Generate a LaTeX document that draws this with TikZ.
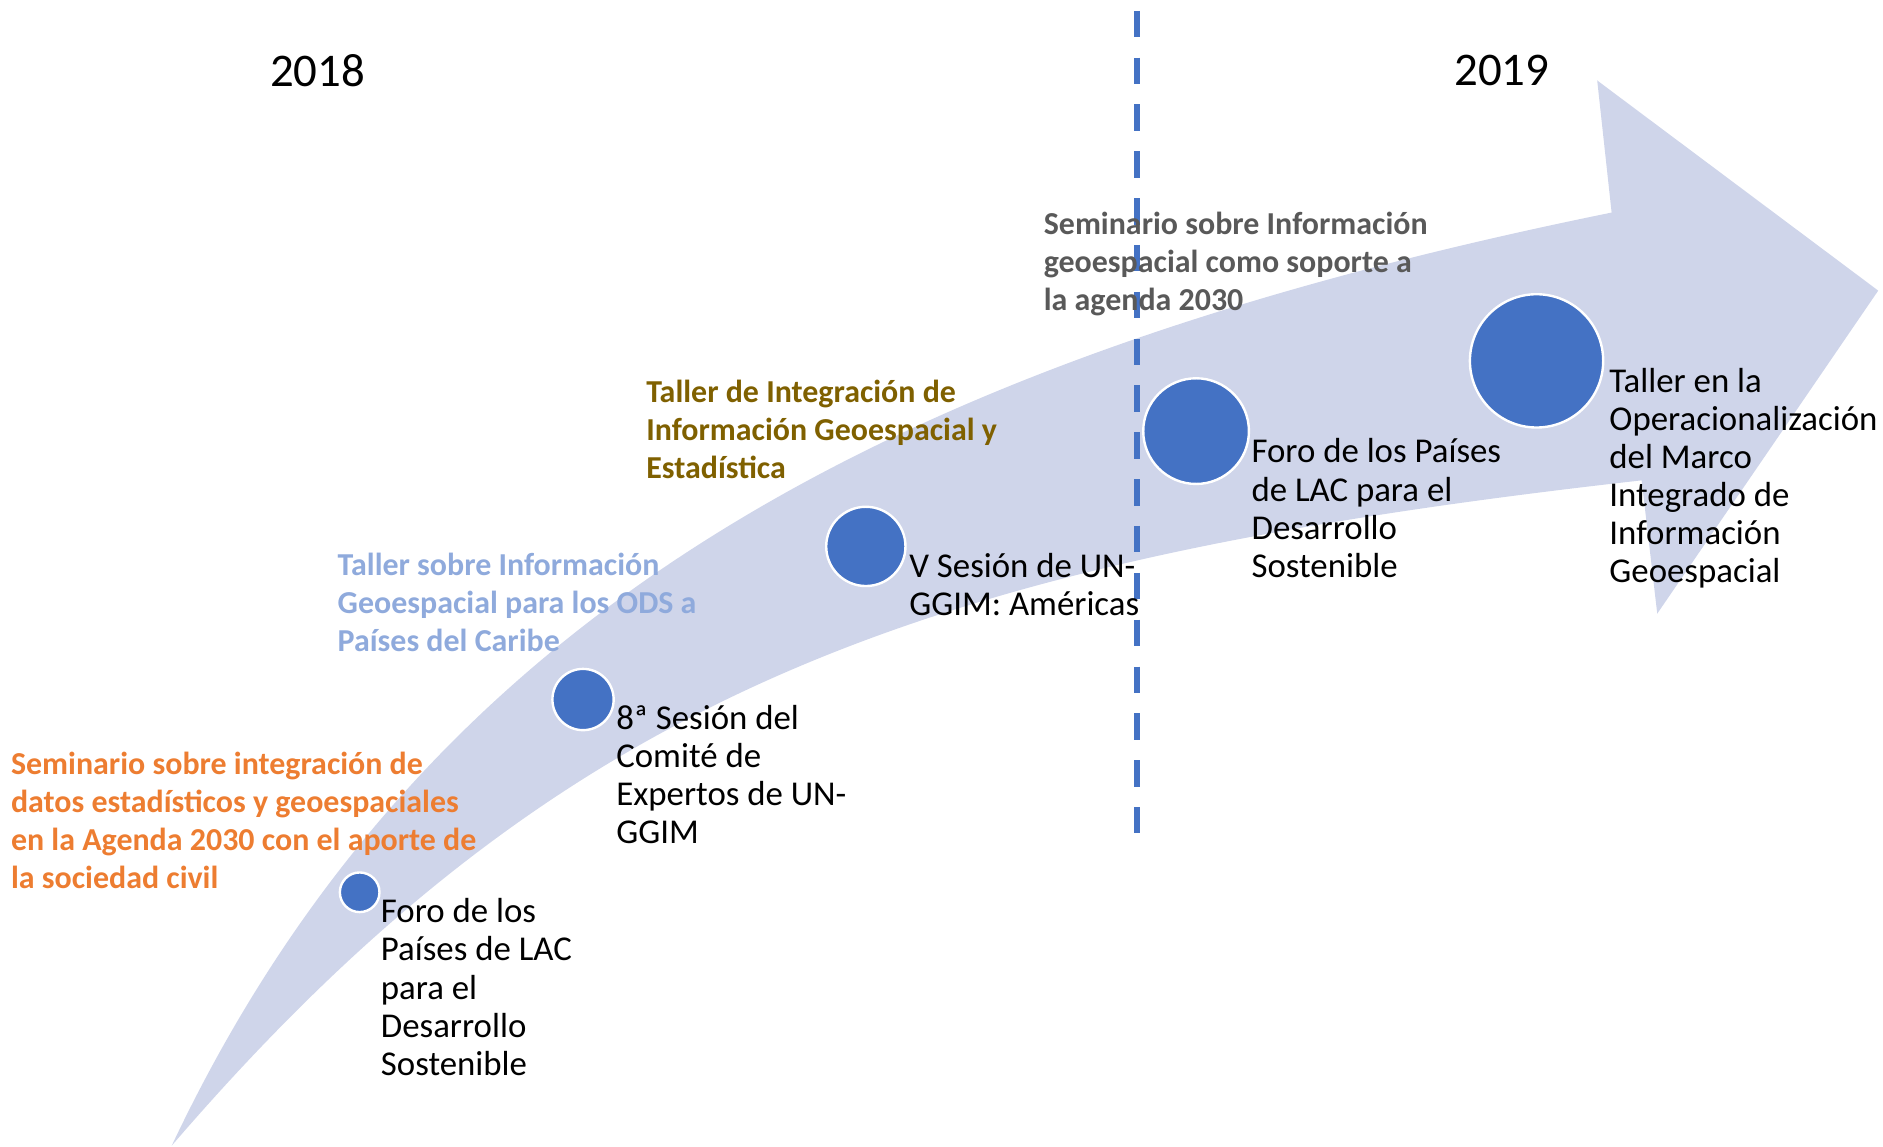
\documentclass[tikz,border=0pt]{standalone}
\usepackage{fontspec}
\setmainfont{Carlito}
\definecolor{arrowfill}{RGB}{207,213,234}
\definecolor{dotblue}{HTML}{4472C4}
\definecolor{orangetxt}{HTML}{ED7D31}
\definecolor{lbluetxt}{HTML}{8FAADC}
\definecolor{goldtxt}{HTML}{7F6000}
\definecolor{graytxt}{HTML}{595959}
\begin{document}
\begin{tikzpicture}[x=1pt,y=-1pt,
  txt/.style={inner sep=0pt, align=left, anchor=base west, font=\fontsize{29}{31.7}\selectfont},
  btxt/.style={inner sep=0pt, align=left, anchor=base west, font=\fontsize{26.6}{31.7}\selectfont\bfseries},
  dot/.style={circle, fill=dotblue, draw=white, line width=2pt, inner sep=0pt},
  year/.style={inner sep=0pt, font=\fontsize{39}{40}\selectfont}]
\useasboundingbox (0,0) rectangle (1568,955);
% curved arrow
\fill[arrowfill] (143,954) .. controls (356,503) and (752,297) .. (1342,177)
  -- (1330,67) -- (1564,242) -- (1380,511) -- (1367,400)
  .. controls (771,467) and (469,575) .. (143,954) -- cycle;
% divider
\coordinate (dtop) at (947,9);
\coordinate (dbot) at (947,697);
\draw[dotblue, line width=5pt, dash pattern=on 22pt off 17pt] (dtop) -- (dbot);
% years
\node[year] (y18) at (264.5,59) {2018};
\node[year] (y19) at (1250.5,59) {2019};
% dots
\node[dot, minimum size=33pt] (c1) at (299.5,743) {};
\node[dot, minimum size=51pt] (c2) at (485.5,582.5) {};
\node[dot, minimum size=66pt] (c3) at (721,455) {};
\node[dot, minimum size=88pt] (c4) at (996,359) {};
\node[dot, minimum size=111pt] (c5) at (1279.5,300.5) {};
% event labels (black); anchor = baseline of last line
\node[txt] (t1) at (317,895.3) {Foro de los\\Países de LAC\\para el\\Desarrollo\\Sostenible};
\node[txt] (t2) at (513,702.6) {8ª Sesión del\\Comité de\\Expertos de UN-\\GGIM};
\node[txt] (t3) at (757,512.2) {V Sesión de UN-\\GGIM: Américas};
\node[txt] (t4) at (1042,480.6) {Foro de los Países\\de LAC para el\\Desarrollo\\Sostenible};
\node[txt] (t5) at (1340,485) {Taller en la\\Operacionalización\\del Marco\\Integrado de\\Información\\Geoespacial};
% coloured labels
\node[btxt, text=orangetxt] (s1) at (9,740.1) {Seminario sobre integración de\\datos estadísticos y geoespaciales\\en la Agenda 2030 con el aporte de\\la sociedad civil};
\node[btxt, text=lbluetxt] (s2) at (281,542.4) {Taller sobre Información\\Geoespacial para los ODS a\\Países del Caribe};
\node[btxt, text=goldtxt] (s3) at (538,398.4) {Taller de Integración de\\Información Geoespacial y\\Estadística};
\node[btxt, text=graytxt] (s4) at (869,258.4) {Seminario sobre Información\\geoespacial como soporte a\\la agenda 2030};
\end{tikzpicture}
\end{document}
